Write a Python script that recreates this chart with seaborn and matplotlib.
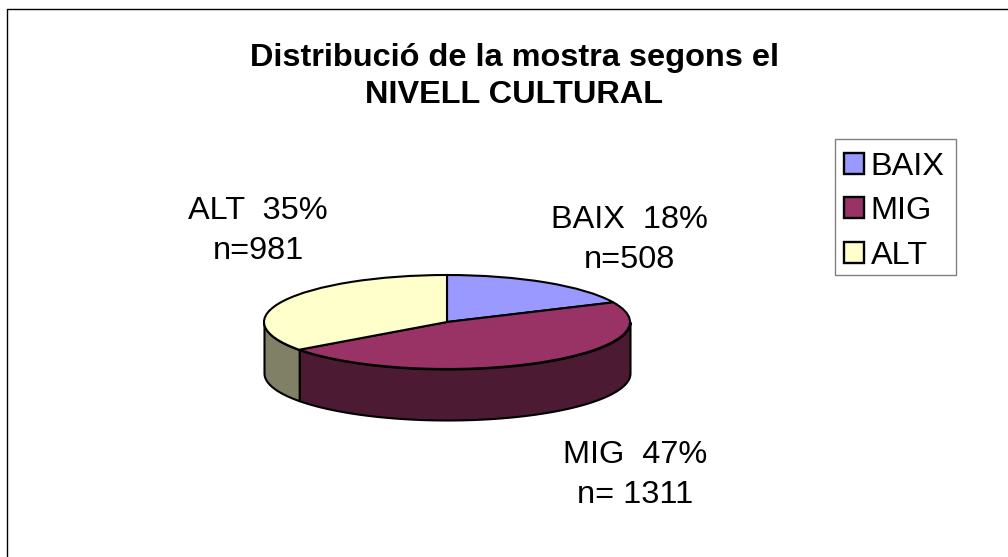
import numpy as np
import matplotlib
matplotlib.use("Agg")
import matplotlib.pyplot as plt
from matplotlib.lines import Line2D
from matplotlib.patches import Rectangle
import seaborn as sns

categories = ["BAIX", "MIG", "ALT"]
valors = [508, 1311, 981]
percentatges = [18, 47, 35]
colors = ["#9999FF", "#993366", "#FFFFCC"]
titol = "Distribució de la mostra segons el\nNIVELL CULTURAL"

W, H = 1008, 557

sns.set_theme(style="white")
plt.rcParams["font.family"] = ["Liberation Sans", "DejaVu Sans"]
paleta = sns.color_palette(colors)
foscos = [tuple(c * 0.5 for c in col) for col in paleta]


def px(x, y):
    # pixels de la imatge (origen a dalt) a coordenades de figura
    return x / W, 1 - y / H


fig = plt.figure(figsize=(W / 100, H / 100), dpi=100, facecolor="white")

# marc: nomes es veu a l'esquerra i a dalt
fig.add_artist(Line2D([px(7, 0)[0], px(7, 0)[0], 1], [0, px(0, 9)[1], px(0, 9)[1]],
                      color="black", lw=1.0))

# el pastis es un cercle aixafat: l'eix fa 2.5 radis d'ample i d'alt
cx, cy, rx, ry = 447, 322, 183, 47
ax = fig.add_axes([(cx - 1.25 * rx) / W, 1 - (cy + 1.25 * ry) / H, 2.5 * rx / W, 2.5 * ry / H])
wedges, _ = ax.pie(valors, colors=paleta, startangle=90, counterclock=False,
                   wedgeprops=dict(edgecolor="black", linewidth=1.5))
ax.set_aspect("auto")
for w in wedges:
    w.set_clip_on(False)

# parets laterals: nomes la meitat frontal, a partir dels mateixos angles
gruix = 51 / ry
acum = np.cumsum([0] + valors) / sum(valors) * 360
for i in range(len(valors)):
    a0 = max(90 - acum[i + 1], -180)
    a1 = min(90 - acum[i], 0)
    if a1 <= a0:
        continue
    t = np.radians(np.linspace(a0, a1, 120))
    ax.fill_between(np.cos(t), np.sin(t), np.sin(t) - gruix, facecolor=foscos[i],
                    edgecolor="black", linewidth=1.5, zorder=0, clip_on=False)

fig.text(*px(514, 76.5), titol, ha="center", va="center", fontsize=23.4, fontweight="bold",
         color="black", linespacing=1.31)

llocs = [(629, 240), (635, 475), (258, 231)]
for cat, pct, n, (x, y), sep in zip(categories, percentatges, valors, llocs, ["", " ", ""]):
    fig.text(*px(x, y), f"{cat}  {pct}%\nn={sep}{n}", ha="center", va="center",
             fontsize=23.4, color="black", linespacing=1.44)

# el requadre de la llegenda va a part per poder baixar-ne el contingut
x0, y0 = px(835, 275)
x1, y1 = px(956, 139)
fig.add_artist(Rectangle((x0, y0), x1 - x0, y1 - y0, transform=fig.transFigure,
                         facecolor="white", edgecolor="#808080", linewidth=1.0))
leg = fig.legend(wedges, categories, loc="upper left", bbox_to_anchor=px(835, 142.5),
                 bbox_transform=fig.transFigure, fontsize=23.4, frameon=False,
                 handlelength=0.62, handleheight=0.62, handletextpad=0.2, labelspacing=0.45,
                 borderpad=0.28, borderaxespad=0, labelcolor="black")
for h in leg.legend_handles:
    h.set_linewidth(1.7)

fig.savefig("out.png", dpi=100, facecolor="white")
